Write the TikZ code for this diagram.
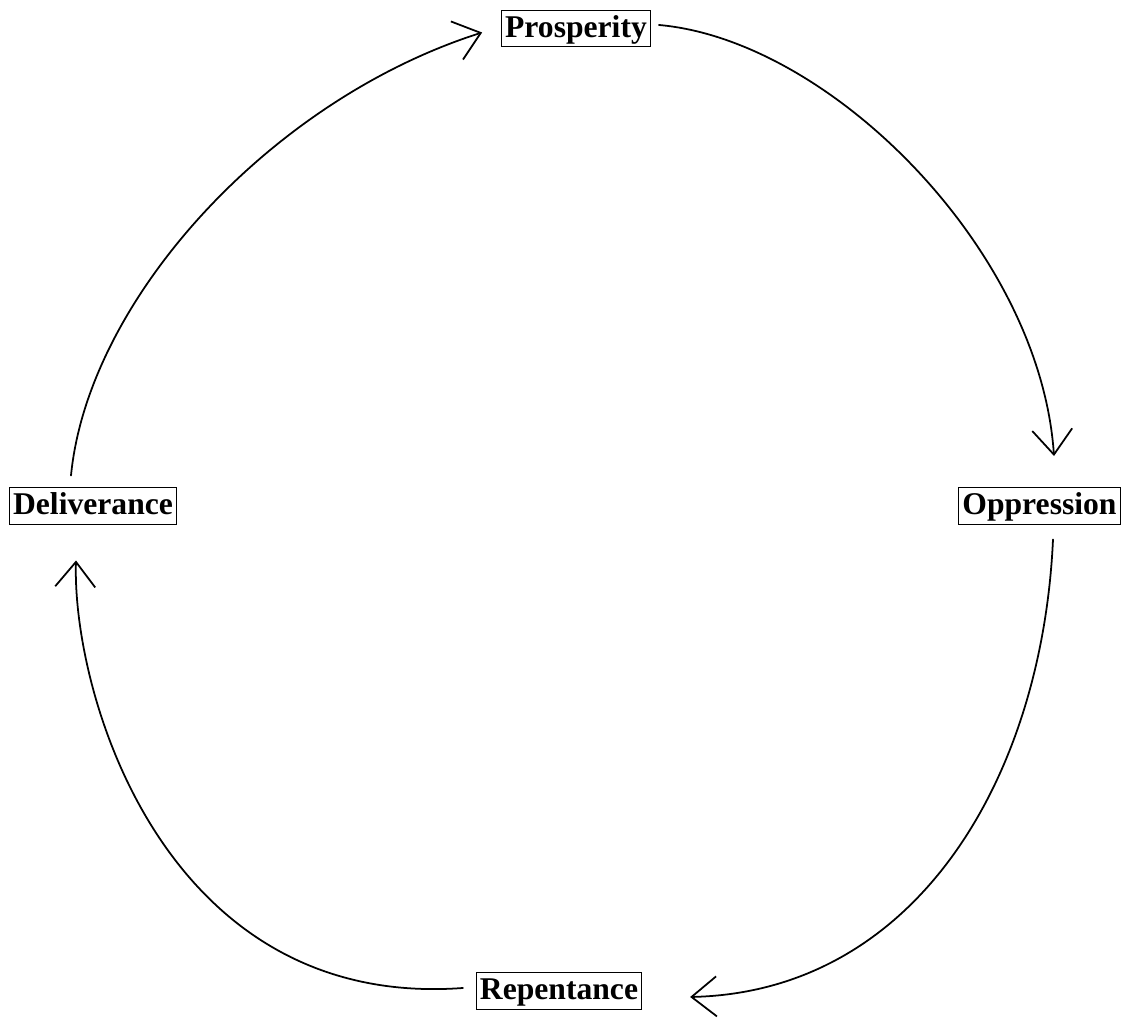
\documentclass[tikz,border=0pt]{standalone}
\usepackage{fontspec}
\setmainfont{Liberation Serif}
\usetikzlibrary{arrows.meta}

\begin{document}
\begin{tikzpicture}[
  stage/.style={draw, line width=0.6pt, inner xsep=2pt, inner ysep=0pt,
    text height=15.5pt, text depth=5.5pt,
    font=\fontsize{18pt}{20pt}\selectfont\bfseries},
  cycle/.style={line width=1pt, line cap=round, line join=round,
    -{Straight Barb[length=0.5cm, width=0.8cm, line width=1pt]}}
]
\useasboundingbox (0,0) rectangle (22.46,20.42);
\node[stage] (pros) at (11.52,19.85) {Prosperity};
\node[stage] (opp) at (20.79,10.3) {Oppression};
\node[stage] (rep) at (11.18,0.6) {Repentance};
\node[stage] (del) at (1.86,10.3) {Deliverance};
% the four turns of the cycle
\draw[cycle] ([xshift=0.16cm,yshift=0.07cm]pros.east) .. controls (16.6,19.62) and (20.8,15.42) .. ([xshift=0.29cm,yshift=0.62cm]opp.north);
\draw[cycle] ([xshift=0.27cm,yshift=-0.29cm]opp.south) .. controls (20.84,4.82) and (18.3,0.58) .. ([xshift=0.96cm,yshift=-0.12cm]rep.east);
\draw[cycle] ([xshift=-0.26cm,yshift=0.06cm]rep.west) .. controls (3.3,0.22) and (1.44,6.52) .. ([xshift=-0.34cm,yshift=-0.71cm]del.south);
\draw[cycle] ([xshift=-0.44cm,yshift=0.23cm]del.north) .. controls (1.76,14.42) and (5.4,18.42) .. ([xshift=-0.38cm,yshift=-0.08cm]pros.west);
\end{tikzpicture}
\end{document}
